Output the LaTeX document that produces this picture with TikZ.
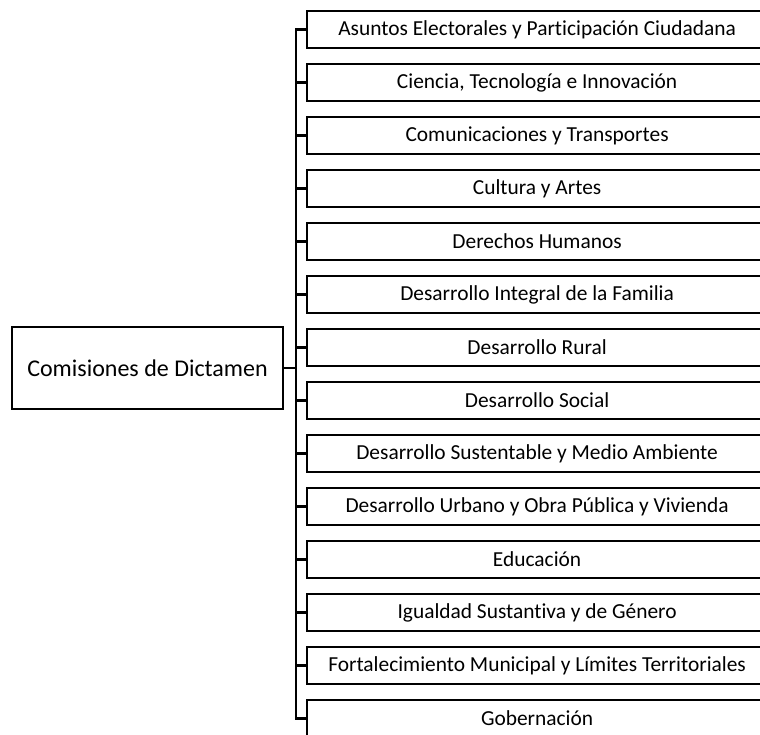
\documentclass[tikz,border=0pt]{standalone}
\usepackage{fontspec}
\setmainfont[Ligatures=NoCommon]{Carlito}
\begin{document}
\begin{tikzpicture}[x=1pt,y=-1pt,
  rootbox/.style={draw,line width=2.2pt,minimum width=271pt,minimum height=82pt,inner sep=0pt,font=\fontsize{24}{28}\selectfont},
  subbox/.style={draw,line width=2.2pt,minimum width=460pt,minimum height=37pt,inner sep=0pt,anchor=north west,font=\fontsize{21.4}{25}\selectfont},
  link/.style={line width=2.6pt}]
\useasboundingbox (0,0) rectangle (760,734);
\node[rootbox] (root) at (147.5,368) {Comisiones de Dictamen};
\foreach \t [count=\i from 0] in {
  Asuntos Electorales y Participación Ciudadana,
  {Ciencia, Tecnología e Innovación},
  Comunicaciones y Transportes,
  Cultura y Artes,
  Derechos Humanos,
  Desarrollo Integral de la Familia,
  Desarrollo Rural,
  Desarrollo Social,
  Desarrollo Sustentable y Medio Ambiente,
  Desarrollo Urbano y Obra Pública y Vivienda,
  Educación,
  Igualdad Sustantiva y de Género,
  Fortalecimiento Municipal y Límites Territoriales,
  Gobernación}{
  \node[subbox] (b\i) at (306,{10+53*\i}) {\t};
  \draw[link] (root.east) -- ++(12,0) |- (b\i.west);
}
\end{tikzpicture}
\end{document}
